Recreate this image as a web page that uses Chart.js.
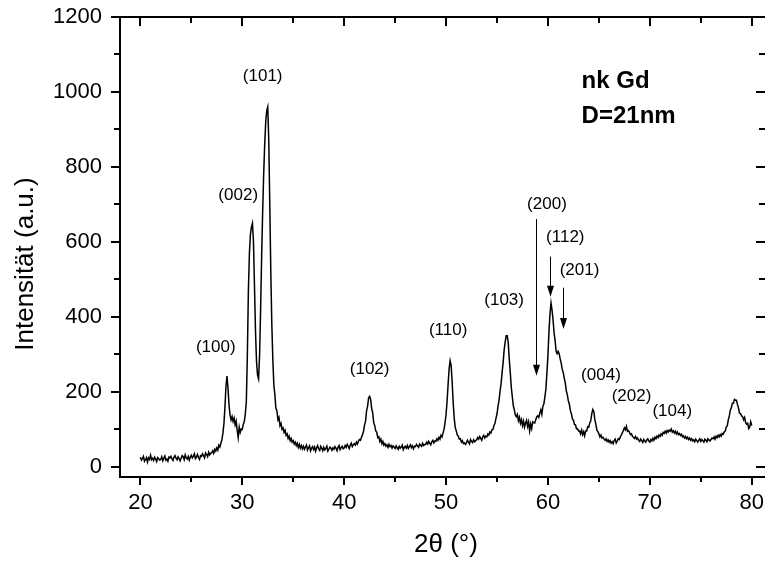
<!DOCTYPE html>
<html>
<head>
<meta charset="utf-8">
<script src="https://cdn.jsdelivr.net/npm/chart.js@4"></script>
<style>
  html, body { margin: 0; padding: 0; background: #fff; }
  canvas { display: block; }
</style>
</head>
<body>
<canvas id="xrd" width="765" height="563"></canvas>
<script>
  // 2theta grid of the scan: 20.0 .. 80.0 deg, step 0.1
  var twoThetaStart = 20
  var twoThetaStep = 0.1

  // intensity, one row per degree (x.0 .. x.9)
  var intensity = [
    26, 18, 22, 28, 15, 19, 25, 13, 24, 20,
    31, 19, 23, 17, 26, 21, 14, 25, 22, 18,
    20, 27, 16, 23, 29, 18, 21, 15, 26, 24,
    28, 21, 17, 26, 30, 23, 19, 27, 22, 16,
    23, 30, 27, 19, 32, 24, 21, 28, 18, 26,
    31, 24, 28, 35, 22, 26, 33, 25, 20, 30,
    28, 35, 30, 24, 37, 33, 27, 39, 32, 36,
    38, 43, 36, 47, 42, 51, 45, 58, 53, 63,
    72, 90, 115, 160, 215, 242, 210, 165, 138, 125,
    134, 121, 130, 112, 122, 98, 78, 106, 92, 101,
    100, 114, 121, 142, 175, 300, 470, 570, 620, 640,
    650, 600, 480, 360, 280, 245, 235, 300, 420, 560,
    680, 780, 860, 920, 950, 960, 870, 700, 520, 380,
    285, 218, 192, 156, 150, 126, 132, 110, 116, 100,
    104, 92, 98, 84, 88, 76, 82, 70, 76, 66,
    70, 61, 66, 57, 63, 52, 60, 50, 57, 48,
    55, 47, 53, 58, 45, 51, 56, 43, 50, 54,
    46, 53, 42, 51, 57, 48, 44, 55, 50, 43,
    52, 45, 49, 55, 42, 47, 53, 50, 44, 51,
    47, 54, 50, 43, 52, 57, 46, 51, 55, 48,
    50, 57, 52, 60, 55, 49, 58, 63, 54, 59,
    62, 58, 66, 61, 69, 73, 71, 79, 86, 95,
    112, 122, 150, 162, 184, 188, 180, 155, 144, 118,
    110, 96, 92, 78, 80, 68, 74, 62, 68, 58,
    62, 55, 59, 52, 60, 54, 57, 50, 56, 53,
    49, 56, 51, 47, 55, 50, 53, 58, 46, 52,
    55, 50, 57, 49, 54, 59, 51, 56, 48, 55,
    54, 60, 56, 52, 61, 58, 55, 63, 57, 60,
    60, 66, 61, 68, 63, 59, 67, 71, 64, 69,
    68, 75, 71, 79, 74, 84, 80, 90, 100, 118,
    140, 175, 220, 262, 283, 270, 225, 170, 130, 105,
    96, 85, 82, 74, 75, 66, 70, 62, 64, 60,
    64, 71, 66, 61, 73, 68, 65, 72, 67, 70,
    72, 78, 74, 81, 76, 71, 80, 84, 77, 82,
    80, 88, 85, 93, 90, 99, 100, 110, 116, 130,
    141, 162, 178, 202, 222, 252, 278, 312, 333, 350,
    350, 332, 288, 252, 213, 187, 163, 152, 138, 134,
    140, 123, 132, 116, 126, 110, 122, 106, 117, 124,
    108, 120, 96, 114, 102, 120, 118, 117, 126, 134,
    136, 132, 143, 152, 140, 162, 168, 187, 208, 252,
    298, 362, 408, 437, 418, 392, 358, 337, 308, 302,
    308, 302, 288, 277, 260, 252, 236, 224, 203, 192,
    176, 167, 150, 142, 128, 124, 113, 112, 102, 102,
    96, 96, 88, 98, 86, 94, 83, 96, 96, 107,
    106, 117, 123, 142, 153, 147, 126, 114, 98, 94,
    88, 80, 85, 77, 79, 74, 71, 75, 68, 72,
    66, 70, 63, 67, 62, 71, 74, 64, 69, 75,
    73, 80, 85, 91, 97, 104, 99, 108, 95, 97,
    92, 86, 88, 81, 79, 76, 81, 74, 77, 71,
    68, 74, 70, 65, 73, 69, 66, 72, 75, 69,
    66, 73, 69, 76, 71, 79, 75, 82, 78, 85,
    81, 88, 84, 92, 89, 95, 90, 97, 93, 98,
    95, 101, 93, 96, 90, 95, 88, 93, 86, 89,
    84, 87, 80, 83, 77, 81, 75, 79, 73, 77,
    71, 75, 69, 72, 67, 74, 70, 66, 71, 75,
    68, 73, 70, 66, 74, 71, 67, 75, 72, 69,
    73, 77, 75, 80, 74, 82, 78, 84, 80, 86,
    82, 89, 87, 93, 96, 106, 110, 126, 136, 152,
    158, 170, 170, 180, 178, 178, 166, 157, 143, 142,
    136, 134, 126, 132, 118, 114, 116, 102, 106, 120,
    110
  ]

  var xTicks = [20, 30, 40, 50, 60, 70, 80]
  var xMinorTicks = [25, 35, 45, 55, 65, 75]
  var yTicks = [0, 200, 400, 600, 800, 1000, 1200]
  var yMinorTicks = [100, 300, 500, 700, 900, 1100]

  // reflections and where their labels sit (2theta, intensity)
  var hkl = ['(100)', '(002)', '(101)', '(102)', '(110)', '(103)', '(200)', '(112)', '(201)', '(004)', '(202)', '(104)']
  var hklAt = [[27.4, 320], [29.6, 725], [32.0, 1043], [42.5, 261], [50.2, 363], [55.7, 443],
    [59.9, 701], [61.7, 613], [63.1, 523], [65.2, 243], [68.2, 189], [72.2, 147]]
  // arrows: [2theta, from, to]
  var arrows = [[58.8, 661, 243], [60.2, 561, 454], [61.5, 478, 368]]

  var FONT = '"Liberation Sans", Arial, Helvetica, sans-serif'

  var points = intensity.map(function (v, i) {
    return { x: +(twoThetaStart + i * twoThetaStep).toFixed(1), y: v }
  })

  var frame = {
    id: 'frame',
    afterDraw: function (chart) {
      var c = chart.ctx
      var a = chart.chartArea
      var sx = chart.scales.x
      var sy = chart.scales.y
      c.save()
      c.strokeStyle = '#000'
      c.fillStyle = '#000'

      // top axis line
      c.lineWidth = 2
      c.beginPath()
      c.moveTo(a.left - 1, a.top)
      c.lineTo(a.right, a.top)
      c.stroke()

      // tick marks: out on bottom/left, in on top/right
      c.beginPath()
      function xt (v, len) {
        var px = Math.round(sx.getPixelForValue(v))
        c.moveTo(px, a.bottom); c.lineTo(px, a.bottom + len)
        c.moveTo(px, a.top); c.lineTo(px, a.top + len + 1)
      }
      function yt (v, len) {
        var py = Math.round(sy.getPixelForValue(v))
        c.moveTo(a.left, py); c.lineTo(a.left - len, py)
        c.moveTo(a.right, py); c.lineTo(a.right - len, py)
      }
      xTicks.forEach(function (v) { xt(v, 8) })
      xMinorTicks.forEach(function (v) { xt(v, 5) })
      yTicks.forEach(function (v) { yt(v, 9) })
      yMinorTicks.forEach(function (v) { yt(v, 6) })
      c.stroke()

      // reflection labels
      c.font = '17px ' + FONT
      c.textAlign = 'center'
      c.textBaseline = 'middle'
      hkl.forEach(function (t, i) {
        c.fillText(t, sx.getPixelForValue(hklAt[i][0]), sy.getPixelForValue(hklAt[i][1]))
      })

      // arrows
      c.lineWidth = 1
      arrows.forEach(function (ar) {
        var px = Math.round(sx.getPixelForValue(ar[0])) + 0.5
        var y1 = sy.getPixelForValue(ar[1])
        var y2 = sy.getPixelForValue(ar[2])
        c.beginPath()
        c.moveTo(px, y1); c.lineTo(px, y2 - 6)
        c.stroke()
        c.beginPath()
        c.moveTo(px - 3.5, y2 - 11); c.lineTo(px + 3.5, y2 - 11); c.lineTo(px, y2)
        c.closePath()
        c.fill()
      })

      // sample note
      c.font = 'bold 24px ' + FONT
      c.textAlign = 'left'
      c.fillText('nk Gd', sx.getPixelForValue(63.3), sy.getPixelForValue(1027))
      c.fillText('D=21nm', sx.getPixelForValue(63.3), sy.getPixelForValue(936))

      // axis titles
      c.font = '26px ' + FONT
      c.textAlign = 'center'
      c.fillText('2θ (°)', 446, 545)
      c.translate(26, 264)
      c.rotate(-Math.PI / 2)
      c.fillText('Intensität (a.u.)', 0, 0)
      c.restore()
    }
  }

  var ctx = document.getElementById('xrd')
  // eslint-disable-next-line no-unused-vars
  var xrdChart = new Chart(ctx, {
    type: 'line',
    data: {
      datasets: [{
        data: points,
        borderColor: '#000',
        borderWidth: 1.5,
        pointRadius: 0,
        tension: 0,
        fill: false
      }]
    },
    options: {
      responsive: false,
      animation: false,
      events: [],
      layout: { padding: { top: 17, right: 0, left: 0, bottom: 0 } },
      plugins: { legend: { display: false }, tooltip: { enabled: false } },
      scales: {
        x: {
          type: 'linear',
          min: 18,
          max: 81.3,
          afterBuildTicks: function (s) { s.ticks = xTicks.map(function (v) { return { value: v } }) },
          afterFit: function (s) {
            s.height = 86
            s.paddingLeft = 0
            s.paddingRight = 0
          },
          grid: { display: false, drawTicks: false },
          border: { display: true, color: '#000', width: 2 },
          ticks: {
            color: '#000', font: { size: 22, family: FONT }, padding: 13, maxRotation: 0, autoSkip: false,
            callback: function (v) { return String(v) }
          }
        },
        y: {
          min: -27,
          max: 1200,
          afterBuildTicks: function (s) { s.ticks = yTicks.map(function (v) { return { value: v } }) },
          afterFit: function (s) {
            s.width = 120
            s.paddingTop = 0
            s.paddingBottom = 0
          },
          grid: { display: false, drawTicks: false },
          border: { display: true, color: '#000', width: 2 },
          ticks: {
            color: '#000', font: { size: 22, family: FONT }, padding: 18, autoSkip: false,
            callback: function (v) { return String(v) }
          }
        }
      }
    },
    plugins: [frame]
  })
</script>
</body>
</html>
